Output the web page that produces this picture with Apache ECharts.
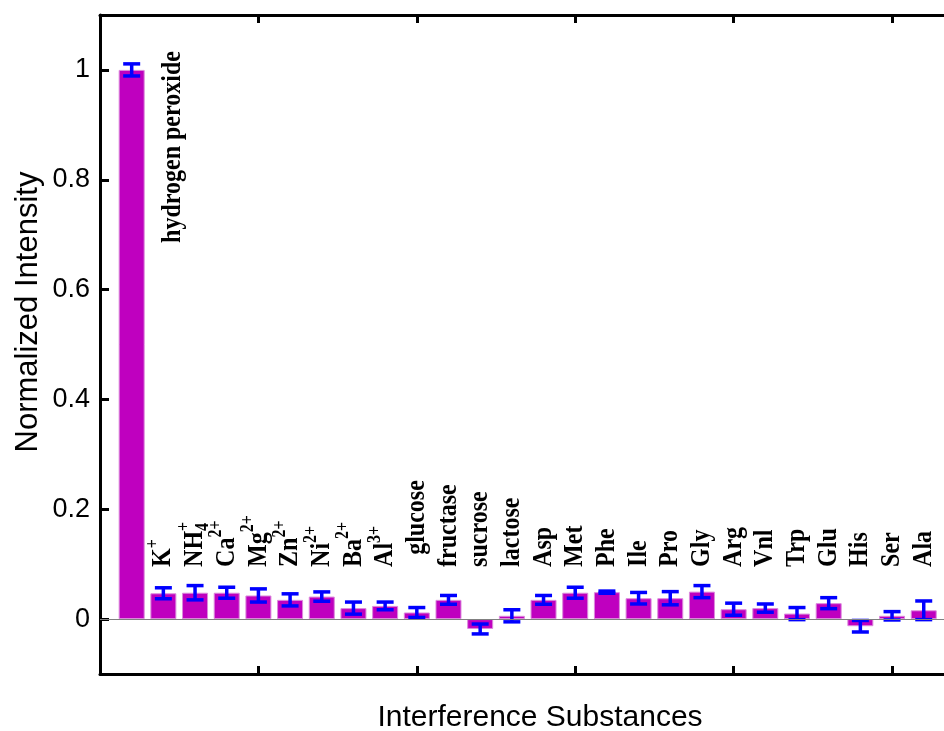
<!DOCTYPE html>
<html>
<head>
<meta charset="utf-8">
<script src="https://cdn.jsdelivr.net/npm/echarts@6/dist/echarts.min.js"></script>
<style>html,body{margin:0;padding:0;background:#fff}</style>
</head>
<body>
<div id="main" style="width:944px;height:731px;"></div>
<script>
// substances, ^ = superscript, _ = subscript
var names = ['hydrogen peroxide', 'K^+', 'NH_4^+', 'Ca^{2+}', 'Mg^{2+}', 'Zn^{2+}', 'Ni^{2+}', 'Ba^{2+}', 'Al^{3+}',
  'glucose', 'fructase', 'sucrose', 'lactose',
  'Asp', 'Met', 'Phe', 'Ile', 'Pro', 'Gly', 'Arg', 'Vnl', 'Trp', 'Glu', 'His', 'Ser', 'Ala']
var values = [1.0, 0.047, 0.048, 0.048, 0.043, 0.035, 0.041, 0.020, 0.024,
  0.012, 0.035, -0.018, 0.006,
  0.035, 0.048, 0.049, 0.038, 0.038, 0.050, 0.018, 0.020, 0.010, 0.029, -0.013, 0.006, 0.016]
var errors = [0.011, 0.010, 0.013, 0.010, 0.012, 0.011, 0.0085, 0.011, 0.007,
  0.009, 0.008, 0.009, 0.011,
  0.008, 0.010, 0.002, 0.0105, 0.012, 0.011, 0.011, 0.0075, 0.011, 0.010, 0.0105, 0.0076, 0.017]
var yTicks = [0, 0.2, 0.4, 0.6, 0.8, 1]
var xTicks = [5, 10, 15, 20, 25]

var SERIF = '"Liberation Serif", "Times New Roman", serif'
var SANS = '"Liberation Sans", Arial, sans-serif'
var MAIN_SIZE = 24
var SCRIPT_SIZE = 16

var ctx = document.createElement('canvas').getContext('2d')
function textWidth (t, size) {
  ctx.font = 'bold ' + size + 'px ' + SERIF
  return ctx.measureText(t).width
}

function parseLabel (s) {
  var re = /(\^\{[^}]*\}|\^.|_\{[^}]*\}|_.|[^^_]+)/g
  var out = []
  var m
  while ((m = re.exec(s)) !== null) {
    var t = m[0]
    if (t[0] === '^' || t[0] === '_') {
      var kind = t[0] === '^' ? 'sup' : 'sub'
      t = t.slice(1).replace(/[{}]/g, '')
      out.push({ kind: kind, text: t })
    } else {
      out.push({ kind: 'main', text: t })
    }
  }
  return out
}

var barData = values.map(function (v, i) { return [i + 1, v] })
var errData = values.map(function (v, i) { return [i + 1, v - errors[i], v + errors[i]] })
// text anchors: first label sits beside the tall bar
var labelData = names.map(function (n, i) {
  if (i === 0) return [2.3, 0.685]
  if (n === 'glucose') return [i + 1, 0.117]
  return [i + 1, 0.095]
})

var myChart = echarts.init(document.getElementById('main'))

var axisCommon = {
  type: 'value',
  min: 0,
  max: 26.64,
  axisLine: { show: true, onZero: false, lineStyle: { color: '#000', width: 3 } },
  axisTick: { show: true, inside: true, length: 8, customValues: xTicks, lineStyle: { color: '#000', width: 3 } },
  axisLabel: { show: false },
  splitLine: { show: false }
}

var option = {
  backgroundColor: '#fff',
  animation: false,
  grid: { left: 100, top: 15, right: 0, height: 659 },
  xAxis: [
    Object.assign({}, axisCommon, { position: 'bottom' }),
    Object.assign({}, axisCommon, { position: 'top' })
  ],
  yAxis: {
    type: 'value',
    min: -0.1,
    max: 1.1,
    axisLine: { show: true, lineStyle: { color: '#000', width: 3 } },
    axisTick: { show: true, inside: true, length: 9, customValues: yTicks, lineStyle: { color: '#000', width: 3 } },
    axisLabel: {
      customValues: yTicks,
      fontSize: 27,
      fontFamily: SANS,
      color: '#000',
      margin: 10,
      formatter: function (v) { return String(+(+v).toFixed(1)) }
    },
    splitLine: { show: false }
  },
  graphic: [
    {
      type: 'text', x: 28, y: 312, rotation: Math.PI / 2,
      style: { text: 'Normalized Intensity', fontSize: 31, fontFamily: SANS, fill: '#000', align: 'center', verticalAlign: 'middle' }
    },
    {
      type: 'text', x: 540, y: 718,
      style: { text: 'Interference Substances', fontSize: 30, fontFamily: SANS, fill: '#000', align: 'center', verticalAlign: 'middle' }
    }
  ],
  series: [
    {
      type: 'bar',
      data: barData,
      barWidth: 26,
      itemStyle: { color: '#BF00BF', borderColor: '#DC8ADC', borderWidth: 1 },
      markLine: {
        silent: true,
        symbol: 'none',
        label: { show: false },
        lineStyle: { color: '#808080', width: 1, type: 'solid' },
        data: [{ yAxis: 0 }]
      },
      z: 2
    },
    {
      type: 'custom',
      data: errData,
      z: 3,
      renderItem: function (params, api) {
        var lo = api.coord([api.value(0), api.value(1)])
        var hi = api.coord([api.value(0), api.value(2)])
        var half = 8.5
        var style = { stroke: '#0000FF', lineWidth: 3.5, fill: null }
        return {
          type: 'group',
          children: [
            { type: 'line', shape: { x1: lo[0], y1: lo[1], x2: hi[0], y2: hi[1] }, style: style },
            { type: 'line', shape: { x1: lo[0] - half, y1: lo[1], x2: lo[0] + half, y2: lo[1] }, style: style },
            { type: 'line', shape: { x1: hi[0] - half, y1: hi[1], x2: hi[0] + half, y2: hi[1] }, style: style }
          ]
        }
      }
    },
    {
      type: 'custom',
      data: labelData,
      z: 4,
      renderItem: function (params, api) {
        var pos = api.coord([api.value(0), api.value(1)])
        var parts = parseLabel(names[params.dataIndex])
        var children = []
        var cx = 0
        var scriptStart = 0
        var lastKind = 'main'
        parts.forEach(function (p) {
          if (p.kind === 'main') {
            children.push({
              type: 'text', x: cx, y: 0,
              style: { text: p.text, fontSize: MAIN_SIZE, fontWeight: 'bold', fontFamily: SERIF, fill: '#000', align: 'left', verticalAlign: 'middle' }
            })
            cx += textWidth(p.text, MAIN_SIZE)
          } else {
            var start = (lastKind !== 'main' && lastKind !== p.kind) ? scriptStart : cx
            scriptStart = start
            var w = textWidth(p.text, SCRIPT_SIZE)
            children.push({
              type: 'text', x: start, y: p.kind === 'sup' ? -9 : 7,
              style: { text: p.text, fontSize: SCRIPT_SIZE, fontWeight: 'bold', fontFamily: SERIF, fill: '#000', align: 'left', verticalAlign: 'middle' }
            })
            cx = Math.max(cx, start + w)
          }
          lastKind = p.kind
        })
        // the source glyphs look a little stretched across the reading direction
        return { type: 'group', x: pos[0], y: pos[1], rotation: Math.PI / 2, scaleY: 1.15, children: children }
      }
    }
  ]
}
myChart.setOption(option)
</script>
</body>
</html>
